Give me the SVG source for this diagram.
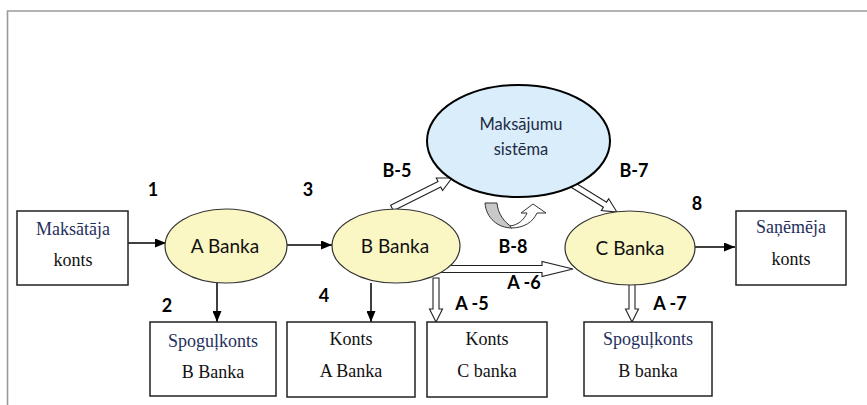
<svg xmlns="http://www.w3.org/2000/svg" width="867" height="405" viewBox="0 0 867 405">
<defs>
<marker id="ah" markerWidth="11" markerHeight="9" refX="11" refY="4.5" orient="auto" markerUnits="userSpaceOnUse">
<path d="M0,0 L11,4.5 L0,9 Z" fill="#000"/>
</marker>
<style>
.frame{fill:none;stroke:#9a9a9a;stroke-width:1.6}
.box{fill:#fff;stroke:#222;stroke-width:1.5}
.bank{fill:#fbf7c4;stroke:#333;stroke-width:1.2}
.sys{fill:#d9eefa;stroke:#000;stroke-width:2}
.line{stroke:#000;stroke-width:1.5;fill:none;marker-end:url(#ah)}
.hollow{fill:#fff;stroke:#222;stroke-width:1.1;stroke-linejoin:miter}
.serif{font-family:"Liberation Serif","Times New Roman",serif;font-size:18px;fill:#111;text-anchor:middle}
.blue{fill:#1f2f5c}
.sans{font-family:Lato,"Open Sans","Liberation Sans",sans-serif;font-size:19px;fill:#111;text-anchor:middle}
.lbl{font-family:Lato,"Open Sans","Liberation Sans",sans-serif;font-size:18px;font-weight:bold;fill:#000;text-anchor:middle}
</style>
</defs>
<path class="frame" d="M7.5,405 V11 H867"/>

<g id="connectors">
<line class="line" x1="128" y1="243" x2="166" y2="243"/>
<line class="line" x1="287" y1="245" x2="332" y2="245"/>
<line class="line" x1="695" y1="247" x2="735" y2="247"/>
<line class="line" x1="217" y1="283" x2="217" y2="322"/>
<line class="line" x1="371" y1="283" x2="371" y2="322"/>
<polygon class="hollow" points="440,265.5 542,265.5 542,261.5 573,269 542,276.5 542,272.5 440,272.5"/>
<polygon class="hollow" points="433,278 439,278 439,309 442.5,309 436,322 429.5,309 433,309"/>
<polygon class="hollow" points="629,282 635,282 635,309 638.5,309 632,322 625.5,309 629,309"/>
<g transform="translate(392,208) rotate(-26.57)"><polygon class="hollow" points="0,-3 53,-3 53,-7 67,0 53,7 53,3 0,3"/></g>
<g transform="translate(565,180) rotate(31.7)"><polygon class="hollow" points="0,-3 47,-3 47,-7 61,0 47,7 47,3 0,3"/></g>
<path d="M485,203 L497,203 C498,214 504,222 512,227 L512,228 C498,228 486,218 485,203 Z" fill="#c8c8c8" stroke="#333" stroke-width="1"/>
<path d="M511,228 C524,228 533,222 537,213 L546,213 L533,204 L521,213 L527,213 C524,220 518,225 510,226 Z" fill="#fff" stroke="#333" stroke-width="1"/>
</g>

<g id="payer">
<rect class="box" x="17" y="211" width="111" height="74"/>
<text class="serif blue" x="73" y="235">Maksātāja</text>
<text class="serif" x="73" y="266">konts</text>
</g>
<g id="bankA">
<ellipse class="bank" cx="226" cy="246" rx="61" ry="37"/>
<text class="sans" x="225" y="253">A Banka</text>
</g>
<g id="bankB">
<ellipse class="bank" cx="396" cy="246" rx="64" ry="37"/>
<text class="sans" x="395" y="253">B Banka</text>
</g>
<g id="bankC">
<ellipse class="bank" cx="630" cy="248" rx="65" ry="37"/>
<text class="sans" x="630" y="255">C Banka</text>
</g>
<g id="system">
<ellipse class="sys" cx="518.5" cy="141" rx="91.5" ry="56"/>
<text class="sans" x="521" y="130" style="font-size:16.5px;fill:#1f2a44">Maksājumu</text>
<text class="sans" x="521" y="155" style="font-size:16.5px;fill:#1f2a44">sistēma</text>
</g>
<g id="payee">
<rect class="box" x="736" y="211" width="110" height="74"/>
<text class="serif blue" x="791" y="233">Saņēmēja</text>
<text class="serif" x="791" y="265">konts</text>
</g>
<g id="mirrorA">
<rect class="box" x="150" y="322" width="126" height="74"/>
<text class="serif blue" x="213" y="347">Spoguļkonts</text>
<text class="serif" x="213" y="378">B Banka</text>
</g>
<g id="accountB">
<rect class="box" x="287" y="322" width="128" height="75"/>
<text class="serif" x="351" y="345">Konts</text>
<text class="serif" x="351" y="377">A Banka</text>
</g>
<g id="accountC">
<rect class="box" x="427" y="322" width="120" height="75"/>
<text class="serif" x="487" y="345">Konts</text>
<text class="serif" x="487" y="377">C banka</text>
</g>
<g id="mirrorC">
<rect class="box" x="584" y="322" width="128" height="74"/>
<text class="serif blue" x="648" y="345">Spoguļkonts</text>
<text class="serif" x="648" y="377">B banka</text>
</g>

<g id="labels">
<text class="lbl" x="153" y="196">1</text>
<text class="lbl" x="167" y="312">2</text>
<text class="lbl" x="308" y="196">3</text>
<text class="lbl" x="324" y="302">4</text>
<text class="lbl" x="397" y="177">B-5</text>
<text class="lbl" x="634" y="177">B-7</text>
<text class="lbl" x="697" y="210">8</text>
<text class="lbl" x="513" y="253">B-8</text>
<text class="lbl" x="524" y="289">A -6</text>
<text class="lbl" x="472" y="310">A -5</text>
<text class="lbl" x="670" y="310">A -7</text>
</g>
</svg>
